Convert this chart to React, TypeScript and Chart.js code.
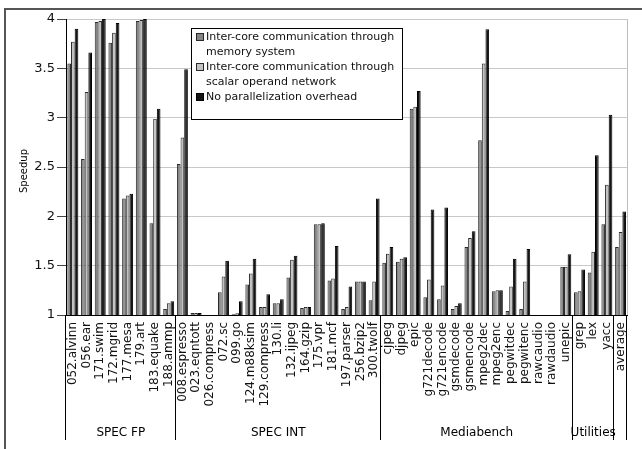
import React, { useEffect, useRef } from 'react';
import { Chart, registerables } from 'chart.js';
Chart.register(...registerables);

const categories = [
  '052.alvinn', '056.ear', '171.swim', '172.mgrid', '177.mesa', '179.art', '183.equake', '188.ammp',
  '008.espresso', '023.eqntott', '026.compress', '072.sc', '099.go', '124.m88ksim', '129.compress', '130.li',
  '132.ijpeg', '164.gzip', '175.vpr', '181.mcf', '197.parser', '256.bzip2', '300.twolf',
  'cjpeg', 'djpeg', 'epic', 'g721decode', 'g721encode', 'gsmdecode', 'gsmencode', 'mpeg2dec', 'mpeg2enc',
  'pegwitdec', 'pegwitenc', 'rawcaudio', 'rawdaudio', 'unepic',
  'grep', 'lex', 'yacc',
  'average',
];

const memorySystem = [
  3.55, 2.58, 3.97, 3.76, 2.18, 3.98, 1.93, 1.06,
  2.53, 1.02, 1.0, 1.23, 1.007, 1.31, 1.08, 1.12, 1.38, 1.07, 1.92, 1.35, 1.06, 1.34, 1.15,
  1.53, 1.54, 3.09, 1.18, 1.16, 1.06, 1.69, 2.77, 1.24, 1.04, 1.06, 1.0, 1.0, 1.49,
  1.23, 1.43, 1.92,
  1.69,
];

const operandNetwork = [
  3.77, 3.26, 3.98, 3.86, 2.21, 3.99, 2.99, 1.12,
  2.80, 1.02, 1.0, 1.39, 1.017, 1.42, 1.08, 1.12, 1.56, 1.08, 1.92, 1.37, 1.08, 1.34, 1.34,
  1.62, 1.57, 3.11, 1.36, 1.30, 1.09, 1.78, 3.55, 1.25, 1.29, 1.34, 1.0, 1.0, 1.49,
  1.24, 1.64, 2.32,
  1.84,
];

const noOverhead = [
  3.90, 3.66, 4.0, 3.96, 2.23, 4.0, 3.09, 1.14,
  3.49, 1.02, 1.0, 1.55, 1.14, 1.57, 1.21, 1.16, 1.60, 1.08, 1.93, 1.70, 1.29, 1.34, 2.18,
  1.69, 1.585, 3.27, 2.07, 2.09, 1.12, 1.85, 3.895, 1.25, 1.57, 1.67, 1.0, 1.0, 1.615,
  1.46, 2.62, 3.03,
  2.05,
];

const groupLabels = ['SPEC FP', 'SPEC INT', 'Mediabench', 'Utilities', ''];
const groupSizes = [8, 15, 14, 3, 1];

const legendLines = [
  ['Inter-core communication through', 'memory system'],
  ['Inter-core communication through', 'scalar operand network'],
  ['No parallelization overhead'],
];

const FONT = '"DejaVu Sans", Verdana, sans-serif';
const fills = ['#858585', '#c2c2c2', '#151515'];
const borders = ['#2a2a2a', '#2a2a2a', '#000000'];

const decorPlugin = {
  id: 'decor',
  afterDraw(chart: any) {
    const { ctx, chartArea } = chart;
    const { left, right, top, bottom } = chartArea;
    const n = categories.length;
    const step = (right - left) / n;
    ctx.save();
    // outer frame
    ctx.strokeStyle = '#555';
    ctx.lineWidth = 2;
    ctx.strokeRect(5, 9, 800, 600);
    // right border of plot
    ctx.strokeStyle = '#bdbdbd';
    ctx.lineWidth = 1;
    ctx.beginPath();
    ctx.moveTo(Math.round(right) + 0.5, top);
    ctx.lineTo(Math.round(right) + 0.5, bottom);
    ctx.stroke();
    // group separators and labels
    ctx.strokeStyle = '#000';
    ctx.fillStyle = '#000';
    ctx.font = '12px ' + FONT;
    ctx.textAlign = 'center';
    ctx.textBaseline = 'middle';
    let idx = 0;
    const bounds = [0];
    groupSizes.forEach((s) => { idx += s; bounds.push(idx); });
    bounds.forEach((b) => {
      const x = Math.round(left + b * step) - 0.5;
      ctx.beginPath();
      ctx.moveTo(x, bottom);
      ctx.lineTo(x, 440);
      ctx.stroke();
    });
    groupLabels.forEach((g, i) => {
      if (!g) return;
      const cx = left + ((bounds[i] + bounds[i + 1]) / 2) * step;
      ctx.fillText(g, cx, 433);
    });
    // y title
    ctx.save();
    ctx.translate(24, 171);
    ctx.rotate(-Math.PI / 2);
    ctx.font = '10px ' + FONT;
    ctx.fillText('Speedup', 0, 0);
    ctx.restore();
    // legend
    const lx = left + 125;
    const ly = top + 9;
    ctx.fillStyle = '#fff';
    ctx.fillRect(lx, ly, 211, 91);
    ctx.strokeStyle = '#000';
    ctx.lineWidth = 1;
    ctx.strokeRect(lx + 0.5, ly + 0.5, 211, 91);
    ctx.font = '11px ' + FONT;
    ctx.textAlign = 'left';
    ctx.textBaseline = 'middle';
    let lineY = ly + 9;
    legendLines.forEach((lines, i) => {
      ctx.fillStyle = fills[i];
      ctx.fillRect(lx + 6, lineY - 3, 6, 6);
      ctx.strokeStyle = borders[i];
      ctx.strokeRect(lx + 5.5, lineY - 3.5, 7, 7);
      ctx.fillStyle = '#111';
      lines.forEach((t) => {
        ctx.fillText(t, lx + 15, lineY);
        lineY += 15;
      });
    });
    ctx.restore();
  },
};

export default function App() {
  const ref = useRef<HTMLCanvasElement>(null);
  useEffect(() => {
    if (!ref.current) return;
    const mk = (label: string, data: number[], i: number) => ({
      label,
      data,
      backgroundColor: fills[i],
      borderColor: borders[i],
      borderWidth: 1,
      categoryPercentage: 0.8,
      barPercentage: 1.0,
    });
    const chart = new Chart(ref.current, {
      type: 'bar',
      data: {
        labels: categories,
        datasets: [
          mk('Inter-core communication through memory system', memorySystem, 0),
          mk('Inter-core communication through scalar operand network', operandNetwork, 1),
          mk('No parallelization overhead', noOverhead, 2),
        ],
      },
      options: {
        responsive: false,
        animation: false,
        devicePixelRatio: 1,
        layout: { padding: { left: 0, top: 19, right: 2, bottom: 0 } },
        plugins: { legend: { display: false }, tooltip: { enabled: false } },
        scales: {
          x: {
            afterFit: (s: any) => { s.height = 134; },
            grid: { display: true, drawOnChartArea: false, drawTicks: false },
            border: { display: true, color: '#000', width: 1 },
            ticks: {
              autoSkip: false,
              maxRotation: 90,
              minRotation: 90,
              padding: 7,
              color: '#111',
              font: { family: FONT, size: 12 },
            },
          },
          y: {
            min: 1,
            max: 4,
            afterFit: (s: any) => { s.width = 66; },
            ticks: {
              stepSize: 0.5,
              padding: 2,
              color: '#111',
              font: { family: FONT, size: 13 },
              callback: (v: any) => String(Number(v)),
            },
            grid: { color: '#c8c8c8', tickColor: '#444', tickLength: 9 },
            border: { display: true, color: '#000', width: 1 },
          },
        },
      },
      plugins: [decorPlugin],
    } as any);
    return () => chart.destroy();
  }, []);
  return (
    <div style={{ position: 'fixed', left: 0, top: 0, width: 642, height: 449, background: '#fff' }}>
      <canvas ref={ref} width={642} height={449} style={{ display: 'block' }} />
    </div>
  );
}
